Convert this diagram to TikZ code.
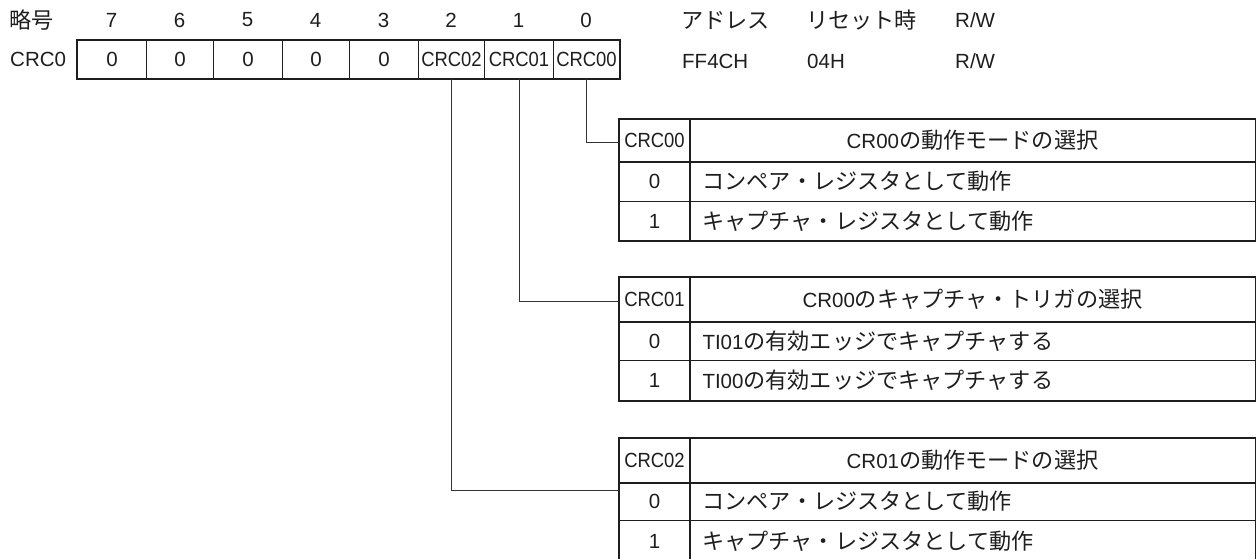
\documentclass[tikz,border=0pt]{standalone}
\usepackage{fontspec}
\setmainfont{Liberation Sans}
\newfontfamily\jp[Scale=1.08]{Noto Sans CJK JP}
\newfontfamily\narrow[FakeStretch=0.9]{Liberation Sans}
\definecolor{ink}{HTML}{1E1E1E}
\definecolor{wire}{HTML}{333333}
\tikzset{
  lbl/.style={inner sep=0pt, text=ink},
  regcell/.style={draw=ink, line width=1pt, minimum height=38pt, inner sep=0pt, anchor=north west, text=ink},
  keycell/.style={draw=ink, line width=1pt, inner sep=0pt, anchor=north west, minimum width=70pt, text=ink},
  desccell/.style={draw=ink, line width=1pt, inner sep=0pt, anchor=north west, minimum width=566pt, text=ink},
  leftcell/.style={draw=ink, line width=1pt, inner ysep=0pt, inner xsep=13pt, text width=540pt, align=left, anchor=north west, text=ink},
  heavy/.style={draw=ink, line width=2pt},
  wirestyle/.style={draw=wire, line width=1pt},
}
\begin{document}
\begin{tikzpicture}[x=1pt,y=-1pt,font=\fontsize{20.5}{24}\selectfont]
\useasboundingbox[fill=white] (0,0) rectangle (1256,558);

% header row
\node[lbl, anchor=west] (hname) at (9,20) {\jp 略号};
\node[lbl] (n7) at (111.5,20) {7};
\node[lbl] (n6) at (179.5,20) {6};
\node[lbl] (n5) at (247.5,20) {5};
\node[lbl] (n4) at (315.5,20) {4};
\node[lbl] (n3) at (383.5,20) {3};
\node[lbl] (n2) at (451,20) {2};
\node[lbl] (n1) at (518.5,20) {1};
\node[lbl] (n0) at (586,20) {0};
\node[lbl, anchor=west] (haddr) at (681,20) {\jp アドレス};
\node[lbl, anchor=west] (hrst) at (806,20) {\jp リセット時};
\node[lbl, anchor=west] (hrw) at (955,20) {R/W};

% register row
\node[lbl, anchor=west] (rname) at (10,59) {CRC0};
\node[regcell, minimum width=69pt] (b7) at (77,40) {0};
\node[regcell, minimum width=67pt] (b6) at (146,40) {0};
\node[regcell, minimum width=69pt] (b5) at (213,40) {0};
\node[regcell, minimum width=67pt] (b4) at (282,40) {0};
\node[regcell, minimum width=69pt] (b3) at (349,40) {0};
\node[regcell, minimum width=66pt] (b2) at (418,40) {\narrow CRC02};
\node[regcell, minimum width=69pt] (b1) at (484,40) {\narrow CRC01};
\node[regcell, minimum width=66pt] (b0) at (553,40) {\narrow CRC00};
\draw[heavy] (b7.north west) rectangle (b0.south east);
\node[lbl, anchor=west] (vaddr) at (682,61) {FF4CH};
\node[lbl, anchor=west] (vrst) at (807,61) {04H};
\node[lbl, anchor=west] (vrw) at (955,61) {R/W};

% table 1 : CRC00
\node[keycell, minimum height=42pt] (t1k) at (619,119) {\narrow CRC00};
\node[desccell, minimum height=42pt] (t1h) at (689,119) {CR00{\jp の動作モードの選択}};
\node[keycell, minimum height=40pt] (t1k0) at (619,161) {0};
\node[leftcell, minimum height=40pt] (t1d0) at (689,161) {\jp コンペア・レジスタとして動作};
\node[keycell, minimum height=39pt] (t1k1) at (619,201) {1};
\node[leftcell, minimum height=39pt] (t1d1) at (689,201) {\jp キャプチャ・レジスタとして動作};
\draw[heavy] (t1k.north west) rectangle (t1d1.south east);
\draw[heavy] (t1k.south west) -- (t1h.south east);
\draw[heavy] (t1k.north east) -- (t1k1.south east);

% table 2 : CRC01
\node[keycell, minimum height=44pt] (t2k) at (619,277) {\narrow CRC01};
\node[desccell, minimum height=44pt] (t2h) at (689,277) {CR00{\jp のキャプチャ・トリガの選択}};
\node[keycell, minimum height=39pt] (t2k0) at (619,321) {0};
\node[leftcell, minimum height=39pt] (t2d0) at (689,321) {TI01{\jp の有効エッジでキャプチャする}};
\node[keycell, minimum height=40pt] (t2k1) at (619,360) {1};
\node[leftcell, minimum height=40pt] (t2d1) at (689,360) {TI00{\jp の有効エッジでキャプチャする}};
\draw[heavy] (t2k.north west) rectangle (t2d1.south east);
\draw[heavy] (t2k.south west) -- (t2h.south east);
\draw[heavy] (t2k.north east) -- (t2k1.south east);

% table 3 : CRC02
\node[keycell, minimum height=44pt] (t3k) at (619,438) {\narrow CRC02};
\node[desccell, minimum height=44pt] (t3h) at (689,438) {CR01{\jp の動作モードの選択}};
\node[keycell, minimum height=38pt] (t3k0) at (619,482) {0};
\node[leftcell, minimum height=38pt] (t3d0) at (689,482) {\jp コンペア・レジスタとして動作};
\node[keycell, minimum height=41pt] (t3k1) at (619,520) {1};
\node[leftcell, minimum height=41pt] (t3d1) at (689,520) {\jp キャプチャ・レジスタとして動作};
\draw[heavy] (t3k.north west) rectangle (t3d1.south east);
\draw[heavy] (t3k.south west) -- (t3h.south east);
\draw[heavy] (t3k.north east) -- (t3k1.south east);

% connectors
\coordinate (c1) at (619,142);
\coordinate (c2) at (619,301);
\coordinate (c3) at (619,490);
\draw[wirestyle] (b0.south) |- (c1);
\draw[wirestyle] (b1.south) |- (c2);
\draw[wirestyle] (b2.south) |- (c3);
\end{tikzpicture}
\end{document}
